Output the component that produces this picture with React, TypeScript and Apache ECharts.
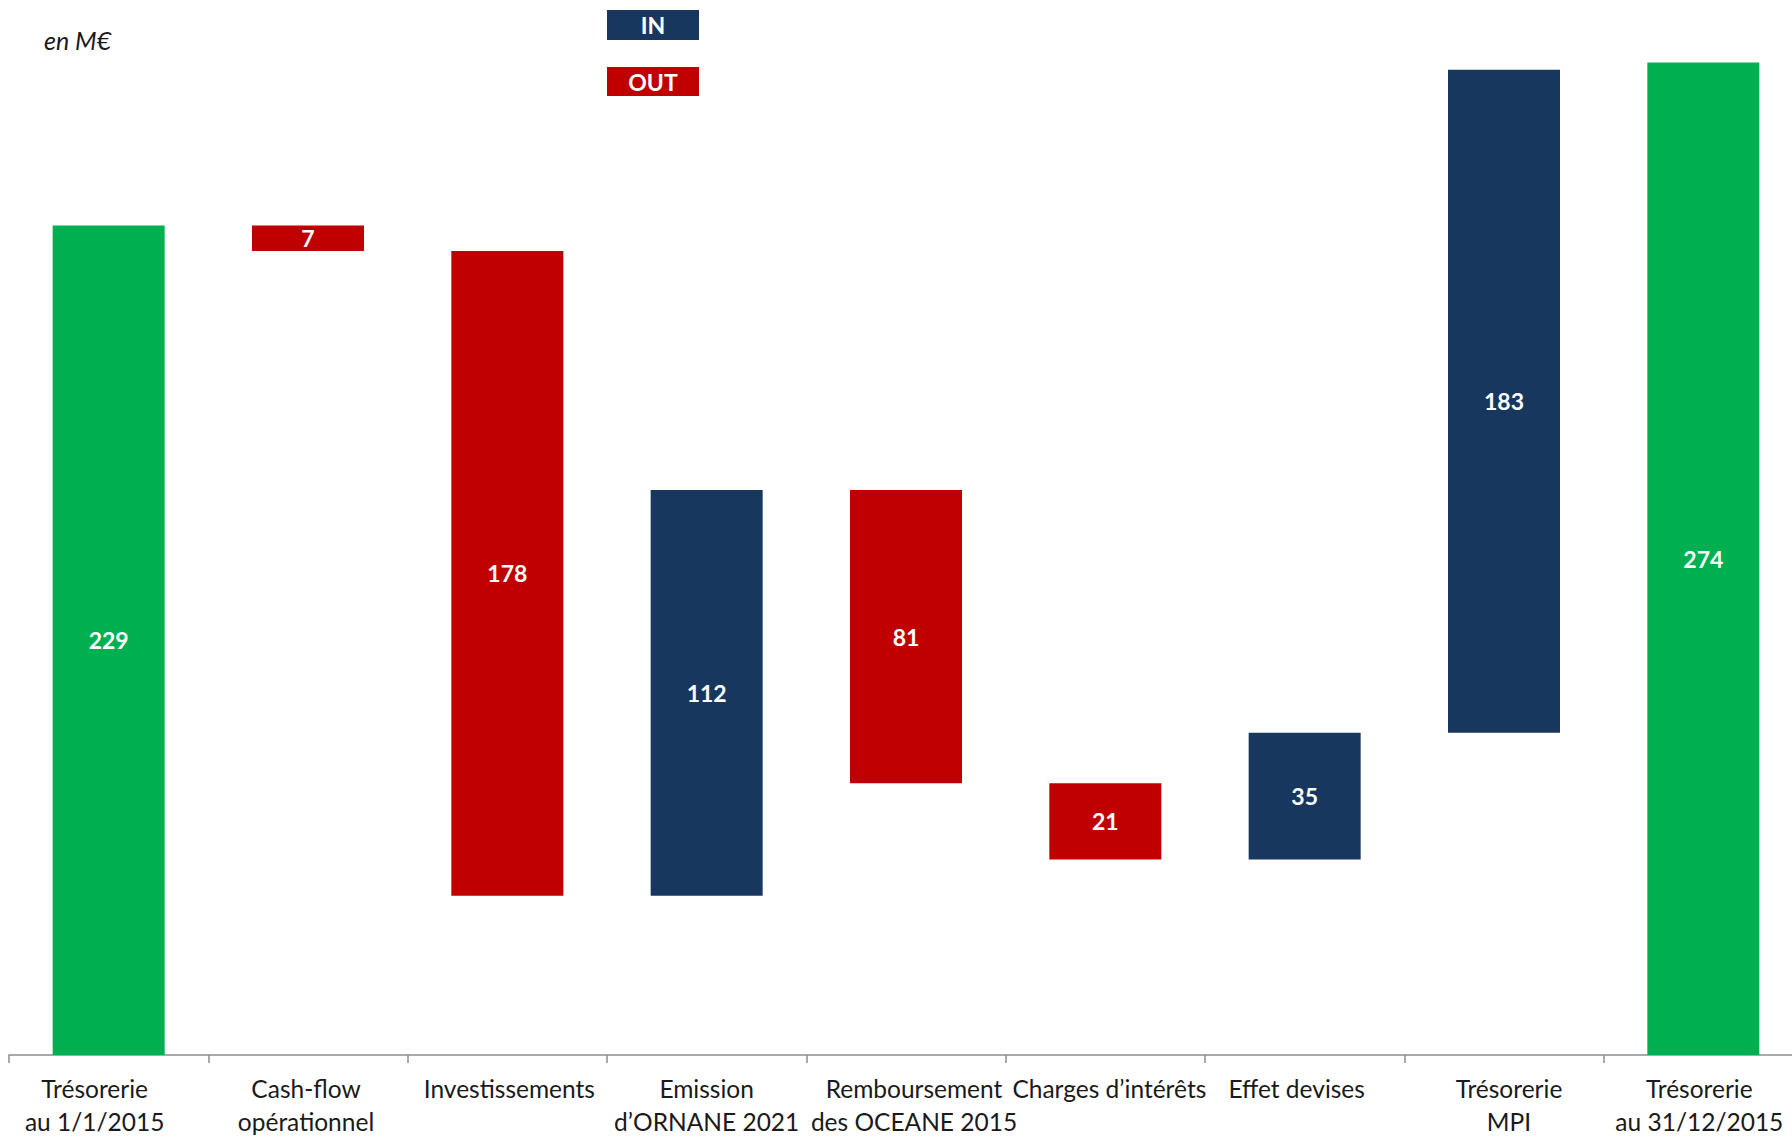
import React, { useEffect, useRef } from "react";
import * as echarts from "echarts";

const categories = [
  "Trésorerie\nau 1/1/2015",
  "Cash-flow\nopérationnel",
  "Investissements",
  "Emission\nd’ORNANE 2021",
  "Remboursement\ndes OCEANE 2015",
  "Charges d’intérêts",
  "Effet devises",
  "Trésorerie\nMPI",
  "Trésorerie\nau 31/12/2015",
];
const amounts = [229, 7, 178, 112, 81, 21, 35, 183, 274];
const kinds = ["total", "out", "out", "in", "out", "out", "in", "in", "total"];
// horizontal nudge of each category label (px, + = right), as in the original
const labelShift = [-14, -2, 2, 0, 8, 4, -8, 5, -4];

const COLORS: Record<string, string> = {
  total: "#00B050",
  out: "#C00000",
  in: "#17375E",
};

const FONT = "Lato, 'Open Sans', sans-serif";

function buildBases(): number[] {
  const bases: number[] = [];
  let running = 0;
  amounts.forEach((v, i) => {
    const k = kinds[i];
    if (k === "total") {
      bases.push(0);
      running = v;
    } else if (k === "out") {
      running -= v;
      bases.push(running);
    } else {
      bases.push(running);
      running += v;
    }
  });
  return bases;
}

export default function App() {
  const ref = useRef<HTMLDivElement>(null);
  useEffect(() => {
    if (!ref.current) return;
    const chart = echarts.init(ref.current, null, { renderer: "svg" });
    const bases = buildBases();
    chart.setOption({
      animation: false,
      grid: { left: 9, right: 0, top: 4.6, bottom: 81, containLabel: false },
      xAxis: {
        type: "category",
        data: categories.map((c, i) => {
          const s = labelShift[i];
          return {
            value: c,
            textStyle: { padding: [0, s < 0 ? -2 * s : 0, 0, s > 0 ? 2 * s : 0] },
          };
        }),
        axisLine: { show: true, lineStyle: { color: "#8c8c8c", width: 1.5 } },
        axisTick: { show: true, length: 8, lineStyle: { color: "#8c8c8c", width: 1.5 } },
        axisLabel: {
          interval: 0,
          hideOverlap: false,
          color: "#1a1a1a",
          fontFamily: FONT,
          fontSize: 24.5,
          lineHeight: 33,
          margin: 17,
        },
      },
      yAxis: { type: "value", min: 0, max: 290, show: false, splitLine: { show: false } },
      series: [
        {
          type: "bar",
          stack: "w",
          barWidth: 112,
          silent: true,
          itemStyle: { color: "transparent" },
          data: bases,
        },
        {
          type: "bar",
          stack: "w",
          barWidth: 112,
          data: amounts.map((v, i) => ({ value: v, itemStyle: { color: COLORS[kinds[i]] } })),
          label: {
            show: true,
            position: "inside",
            color: "#ffffff",
            fontWeight: "bold",
            fontFamily: FONT,
            fontSize: 23,
          },
        },
      ],
      graphic: [
        {
          type: "text",
          left: 44,
          top: 27,
          style: { text: "en M€", fontFamily: FONT, fontStyle: "italic", fontSize: 25, fill: "#1a1a1a" },
        },
        { type: "rect", shape: { x: 607, y: 10, width: 92, height: 30 }, style: { fill: "#17375E" } },
        {
          type: "text",
          x: 653,
          y: 25,
          style: { text: "IN", fontFamily: FONT, fontWeight: "bold", fontSize: 23, fill: "#fff", align: "center", verticalAlign: "middle" },
        },
        { type: "rect", shape: { x: 607, y: 67, width: 92, height: 29 }, style: { fill: "#C00000" } },
        {
          type: "text",
          x: 653,
          y: 82,
          style: { text: "OUT", fontFamily: FONT, fontWeight: "bold", fontSize: 23, fill: "#fff", align: "center", verticalAlign: "middle" },
        },
      ],
    });
    return () => chart.dispose();
  }, []);
  return (
    <div style={{ position: "absolute", left: 0, top: 0, width: 1792, height: 1138, overflow: "hidden", background: "#fff" }}>
      <div ref={ref} style={{ position: "absolute", left: 0, top: 0, width: 1803, height: 1138 }} />
    </div>
  );
}
